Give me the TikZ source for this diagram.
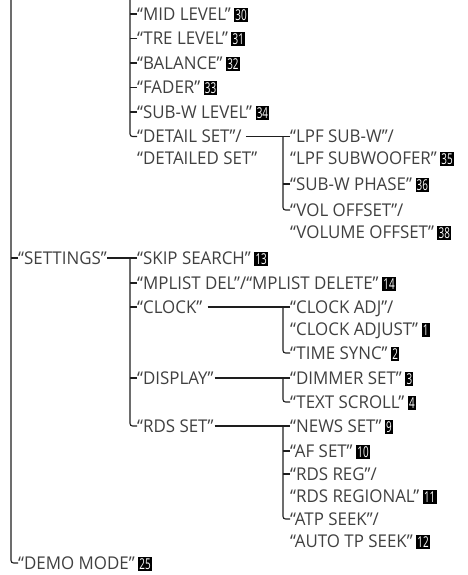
\documentclass[tikz,border=0pt]{standalone}
\usepackage{fontspec}
\setmainfont{Open Sans}[FakeStretch=0.96]
\newfontfamily\badgefont{Open Sans}[FakeStretch=0.66]
\usetikzlibrary{calc}
\definecolor{txt}{HTML}{404040}
\definecolor{ln}{HTML}{1E1E1E}
\newcommand{\nb}[1]{\hspace{3.5pt}{\fboxsep=1.2pt\colorbox{black}{\color{white}\badgefont\fontsize{15}{17}\selectfont\rule[-0.4pt]{0pt}{11.8pt}#1}}}
\tikzset{
  item/.style={anchor=west, inner sep=0pt, text height=12.5pt, text depth=0pt, text=txt, font=\fontsize{17.6}{20}\selectfont},
  conn/.style={draw=ln, line width=1.1pt},
  rc/.style={conn, rounded corners=2.5pt}
}
\begin{document}
\begin{tikzpicture}[x=1pt,y=-1pt]
\useasboundingbox (0,0) rectangle (467,575);
\coordinate (v1) at (11,0);
\coordinate (v2) at (130,0);
\coordinate (v3) at (283,0);
% level 1
\node[item] (settings) at (18,258) {“SETTINGS”};
\node[item] (demo) at (18,563) {“DEMO MODE”\nb{25}};
% level 2, top group
\node[item] (mid) at (137,14) {“MID LEVEL”\nb{30}};
\node[item] (tre) at (137,38.5) {“TRE LEVEL”\nb{31}};
\node[item] (bal) at (137,63) {“BALANCE”\nb{32}};
\node[item] (fader) at (137,87.5) {“FADER”\nb{33}};
\node[item] (subw) at (137,112) {“SUB-W LEVEL”\nb{34}};
\node[item] (detail) at (137,136.5) {“DETAIL SET”/};
\node[item] (detail2) at (137,158) {“DETAILED SET”};
% level 3 under detail
\node[item] (lpf) at (290,136.5) {“LPF SUB-W”/};
\node[item] (lpf2) at (290,158) {“LPF SUBWOOFER”\nb{35}};
\node[item] (phase) at (290,184) {“SUB-W PHASE”\nb{36}};
\node[item] (vol) at (290,210) {“VOL OFFSET”/};
\node[item] (vol2) at (290,232) {“VOLUME OFFSET”\nb{38}};
% level 2, settings group
\node[item] (skip) at (137,258) {“SKIP SEARCH”\nb{13}};
\node[item] (mplist) at (137,283) {“MPLIST DEL”/“MPLIST DELETE”\nb{14}};
\node[item] (clock) at (137,307) {“CLOCK”};
\node[item] (display) at (137,378) {“DISPLAY”};
\node[item] (rds) at (137,426) {“RDS SET”};
% level 3 under settings
\node[item] (clkadj) at (290,307) {“CLOCK ADJ”/};
\node[item] (clkadj2) at (290,329) {“CLOCK ADJUST”\nb{1}};
\node[item] (sync) at (290,353) {“TIME SYNC”\nb{2}};
\node[item] (dimmer) at (290,378) {“DIMMER SET”\nb{3}};
\node[item] (scroll) at (290,402) {“TEXT SCROLL”\nb{4}};
\node[item] (news) at (290,426) {“NEWS SET”\nb{9}};
\node[item] (af) at (290,451) {“AF SET”\nb{10}};
\node[item] (reg) at (290,474) {“RDS REG”/};
\node[item] (reg2) at (290,496) {“RDS REGIONAL”\nb{11}};
\node[item] (atp) at (290,519) {“ATP SEEK”/};
\node[item] (atp2) at (290,541) {“AUTO TP SEEK”\nb{12}};
% connectors
\draw[rc] (v1) |- (demo.west);
\draw[conn] (settings.west -| v1) -- (settings.west);
\draw[rc] (v2) |- (detail.west);
\foreach \n in {mid,tre,bal,fader,subw} \draw[conn] (\n.west -| v2) -- (\n.west);
\draw[conn] ([xshift=4pt]detail.east) -- (lpf.west);
\draw[rc] (lpf.west -| v3) |- (vol.west);
\draw[conn] (phase.west -| v3) -- (phase.west);
\draw[conn] ([xshift=0.5pt]settings.east) -- (skip.west);
\draw[rc] (skip.west -| v2) |- (rds.west);
\foreach \n in {mplist,clock,display} \draw[conn] (\n.west -| v2) -- (\n.west);
\draw[conn] ([xshift=5pt]clock.east) -- (clkadj.west);
\draw[rc] (clkadj.west -| v3) |- (sync.west);
\draw[conn] ([xshift=1pt]display.east) -- (dimmer.west);
\draw[rc] (dimmer.west -| v3) |- (scroll.west);
\draw[conn] ([xshift=1pt]rds.east) -- (news.west);
\draw[rc] (news.west -| v3) |- (atp.west);
\foreach \n in {af,reg} \draw[conn] (\n.west -| v3) -- (\n.west);
\end{tikzpicture}
\end{document}
